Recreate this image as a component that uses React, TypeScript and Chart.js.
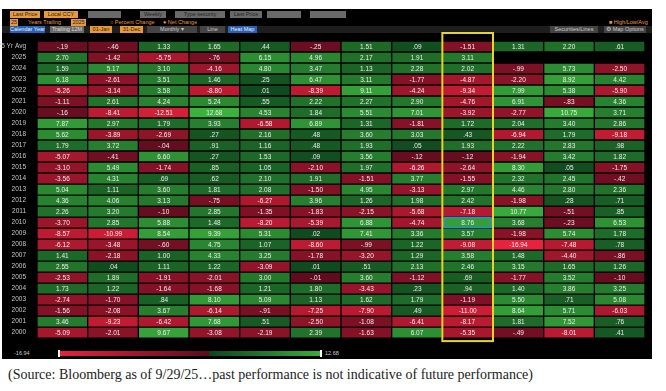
import React, { useEffect, useRef } from "react";
import { Chart, registerables } from "chart.js";
Chart.register(...registerables);

const months = ["Jan", "Feb", "Mar", "Apr", "May", "Jun", "Jul", "Aug", "Sep", "Oct", "Nov", "Dec"];
const rowLabels = ["25 Yr Avg", "2025", "2024", "2023", "2022", "2021", "2020", "2019", "2018", "2017", "2016", "2015", "2014", "2013", "2012", "2011", "2010", "2009", "2008", "2007", "2006", "2005", "2004", "2003", "2002", "2001", "2000"];

const avg25 = [-0.19, -0.46, 1.33, 1.65, 0.44, -0.25, 1.51, 0.09, -1.51, 1.31, 2.20, 0.61];
const y2025 = [2.70, -1.42, -5.75, -0.76, 6.15, 4.96, 2.17, 1.91, 3.11, null, null, null];
const y2024 = [1.59, 5.17, 3.10, -4.16, 4.80, 3.47, 1.13, 2.28, 2.02, -0.99, 5.73, -2.50];
const y2023 = [6.18, -2.61, 3.51, 1.46, 0.25, 6.47, 3.11, -1.77, -4.87, -2.20, 8.92, 4.42];
const y2022 = [-5.26, -3.14, 3.58, -8.80, 0.01, -8.39, 9.11, -4.24, -9.34, 7.99, 5.38, -5.90];
const y2021 = [-1.11, 2.61, 4.24, 5.24, 0.55, 2.22, 2.27, 2.90, -4.76, 6.91, -0.83, 4.36];
const y2020 = [-0.16, -8.41, -12.51, 12.68, 4.53, 1.84, 5.51, 7.01, -3.92, -2.77, 10.75, 3.71];
const y2019 = [7.87, 2.97, 1.79, 3.93, -6.58, 6.89, 1.31, -1.81, 1.72, 2.04, 3.40, 2.86];
const y2018 = [5.62, -3.89, -2.69, 0.27, 2.16, 0.48, 3.60, 3.03, 0.43, -6.94, 1.79, -9.18];
const y2017 = [1.79, 3.72, -0.04, 0.91, 1.16, 0.48, 1.93, 0.05, 1.93, 2.22, 2.83, 0.98];
const y2016 = [-5.07, -0.41, 6.60, 0.27, 1.53, 0.09, 3.56, -0.12, -0.12, -1.94, 3.42, 1.82];
const y2015 = [-3.10, 5.49, -1.74, 0.85, 1.05, -2.10, 1.97, -6.26, -2.64, 8.30, 0.05, -1.75];
const y2014 = [-3.56, 4.31, 0.69, 0.62, 2.10, 1.91, -1.51, 3.77, -1.55, 2.32, 2.45, -0.42];
const y2013 = [5.04, 1.11, 3.60, 1.81, 2.08, -1.50, 4.95, -3.13, 2.97, 4.46, 2.80, 2.36];
const y2012 = [4.36, 4.06, 3.13, -0.75, -6.27, 3.96, 1.26, 1.98, 2.42, -1.98, 0.28, 0.71];
const y2011 = [2.26, 3.20, -0.10, 2.85, -1.35, -1.83, -2.15, -5.68, -7.18, 10.77, -0.51, 0.85];
const y2010 = [-3.70, 2.85, 5.88, 1.48, -8.20, -5.39, 6.88, -4.74, 8.76, 3.68, -0.23, 6.53];
const y2009 = [-8.57, -10.99, 8.54, 9.39, 5.31, 0.02, 7.41, 3.36, 3.57, -1.98, 5.74, 1.78];
const y2008 = [-6.12, -3.48, -0.60, 4.75, 1.07, -8.60, -0.99, 1.22, -9.08, -16.94, -7.48, 0.78];
const y2007 = [1.41, -2.18, 1.00, 4.33, 3.25, -1.78, -3.20, 1.29, 3.58, 1.48, -4.40, -0.86];
const y2006 = [2.55, 0.04, 1.11, 1.22, -3.09, 0.01, 0.51, 2.13, 2.46, 3.15, 1.65, 1.26];
const y2005 = [-2.53, 1.89, -1.91, -2.01, 3.00, -0.01, 3.60, -1.12, 0.69, -1.77, 3.52, -0.10];
const y2004 = [1.73, 1.22, -1.64, -1.68, 1.21, 1.80, -3.43, 0.23, 0.94, 1.40, 3.86, 3.25];
const y2003 = [-2.74, -1.70, 0.84, 8.10, 5.09, 1.13, 1.62, 1.79, -1.19, 5.50, 0.71, 5.08];
const y2002 = [-1.56, -2.08, 3.67, -6.14, -0.91, -7.25, -7.90, 0.49, -11.00, 8.64, 5.71, -6.03];
const y2001 = [3.46, -9.23, -6.42, 7.68, 0.51, -2.50, -1.08, -6.41, -8.17, 1.81, 7.52, 0.76];
const y2000 = [-5.09, -2.01, 9.67, -3.08, -2.19, 2.39, -1.63, 6.07, -5.35, -0.49, -8.01, 0.41];

const rows: (number | null)[][] = [avg25, y2025, y2024, y2023, y2022, y2021, y2020, y2019, y2018, y2017, y2016, y2015, y2014, y2013, y2012, y2011, y2010, y2009, y2008, y2007, y2006, y2005, y2004, y2003, y2002, y2001, y2000];

const scaleMin = -16.94;
const scaleMax = 12.68;
const highlightMonth = 8;
const selectedRow = 16;

function fmt(v: number) {
  const s = v.toFixed(2);
  return s.replace(/^(-?)0\./, "$1.");
}

function lerp(a: number[], b: number[], t: number) {
  return `rgb(${a.map((x, i) => Math.round(x + (b[i] - x) * t)).join(",")})`;
}

function cellColor(v: number | null) {
  if (v == null) return "rgba(0,0,0,0)";
  if (v >= 0) {
    const t = Math.pow(Math.min(v / scaleMax, 1), 0.55);
    return lerp([15, 72, 30], [60, 178, 62], t);
  }
  const t = Math.pow(Math.min(v / scaleMin, 1), 0.55);
  return lerp([94, 12, 30], [232, 34, 60], t);
}

const cellText = {
  id: "cellText",
  afterDatasetsDraw(chart: any) {
    const ctx = chart.ctx;
    ctx.save();
    ctx.font = '6.5px "Liberation Sans", Arial, sans-serif';
    ctx.fillStyle = "#ececec";
    ctx.textAlign = "center";
    ctx.textBaseline = "middle";
    chart.data.datasets.forEach((_: any, i: number) => {
      const meta = chart.getDatasetMeta(i);
      meta.data.forEach((el: any, j: number) => {
        const v = rows[i][j];
        if (v == null) return;
        ctx.fillText(fmt(v), el.x, (el.y + el.base) / 2 + 0.5);
      });
    });
    ctx.restore();
  },
};

const highlight = {
  id: "highlight",
  afterDraw(chart: any) {
    const { ctx, chartArea } = chart;
    const xs = chart.scales.x;
    const ys = chart.scales.y;
    const w = xs.getPixelForValue(1) - xs.getPixelForValue(0);
    const cx = xs.getPixelForValue(highlightMonth);
    ctx.save();
    const y0 = ys.getPixelForValue(selectedRow - 0.5);
    const y1 = ys.getPixelForValue(selectedRow + 0.5);
    ctx.strokeStyle = "#2a8fd0";
    ctx.lineWidth = 1.5;
    ctx.strokeRect(cx - w / 2 + 2, Math.min(y0, y1) + 0.5, w - 4, Math.abs(y1 - y0) - 1);
    ctx.strokeStyle = "#e8d22c";
    ctx.lineWidth = 2;
    ctx.strokeRect(cx - w / 2, chartArea.top - 8, w, chartArea.bottom - chartArea.top + 11);
    ctx.restore();
  },
};

function HeatMap() {
  const ref = useRef<HTMLCanvasElement>(null);
  useEffect(() => {
    if (!ref.current) return;
    const datasets = rows.map((r, i) => ({
      label: rowLabels[i],
      data: r.map((v) => (v == null ? null : [i - 0.5, i + 0.5])),
      backgroundColor: r.map((v) => cellColor(v)),
      borderColor: "rgba(0,0,0,0.55)",
      borderWidth: 1,
      borderSkipped: false,
      grouped: false,
      barPercentage: 1,
      categoryPercentage: 1,
    }));
    const chart = new Chart(ref.current, {
      type: "bar",
      data: { labels: months, datasets: datasets as any },
      options: {
        responsive: false,
        animation: false,
        events: [],
        layout: { padding: { left: 0, right: 5, top: 0, bottom: 3 } },
        plugins: { legend: { display: false }, tooltip: { enabled: false } },
        scales: {
          x: {
            type: "category",
            position: "top",
            grid: { display: false },
            border: { display: false },
            ticks: { color: "#c8c8c8", font: { size: 6.5, family: '"Liberation Sans", Arial, sans-serif' }, padding: 1, maxRotation: 0 },
            afterFit: (s: any) => { s.height = 9; },
          },
          y: {
            type: "linear",
            reverse: true,
            min: -0.5,
            max: rows.length - 0.5,
            grid: { display: false },
            border: { display: false },
            afterBuildTicks: (s: any) => { s.ticks = rowLabels.map((_, i) => ({ value: i })); },
            ticks: {
              autoSkip: false,
              color: "#c8c8c8",
              padding: 3,
              font: { size: 6.5, family: '"Liberation Sans", Arial, sans-serif' },
              callback: (v: any) => rowLabels[v] ?? "",
            },
            afterFit: (s: any) => { s.width = 37; },
          },
        },
      },
      plugins: [cellText, highlight],
    });
    return () => chart.destroy();
  }, []);
  return <canvas ref={ref} width={650} height={313} style={{ position: "absolute", left: 0, top: 32, width: 650, height: 313 }} />;
}

type BoxProps = { x: number; y: number; w?: number; h?: number; bg?: string; color?: string; text?: string };
function Box({ x, y, w, h = 7, bg, color = "#222", text = "" }: BoxProps) {
  return (
    <div style={{ position: "absolute", left: x, top: y, width: w, height: h, background: bg, color, fontSize: 5.5, lineHeight: h + "px", fontFamily: '"Liberation Sans", Arial, sans-serif', whiteSpace: "nowrap", overflow: "hidden", textAlign: w ? "center" : "left" }}>{text}</div>
  );
}

const orange = "#e89a3a";
const gray = "#6a6a6a";
const blue = "#2a62b8";

export default function App() {
  return (
    <div style={{ position: "fixed", left: 0, top: 0, width: 666, height: 391, background: "#fff", overflow: "hidden" }}>
      <div style={{ position: "absolute", left: 2, top: 9, width: 650, height: 350, background: "#000" }} />
      <Box x={10} y={11} w={30} bg={orange} text="Last Price" />
      <Box x={44} y={11} w={34} bg={orange} text="Local CCY" />
      <Box x={88} y={11} w={33} bg={gray} />
      <Box x={140} y={11} w={26} bg={gray} text="Weekly" />
      <Box x={175} y={11} w={50} bg={gray} text="Type security" />
      <Box x={230} y={11} w={32} bg={gray} text="Last Price" />
      <Box x={267} y={11} w={34} bg={gray} />
      <Box x={310} y={11} w={36} bg={gray} />
      <Box x={10} y={18.5} w={8} bg={orange} text="25" />
      <Box x={28} y={18.5} color={orange} text="Years Trailing" />
      <Box x={71} y={18.5} w={15} bg={orange} text="2025" />
      <Box x={110} y={18.5} color={orange} text="○ Percent Change" />
      <Box x={163} y={18.5} color={orange} text="● Net Change" />
      <Box x={609} y={18.5} color={orange} text="■ High/Low/Avg" />
      <div style={{ position: "absolute", left: 2, top: 26, width: 650, height: 7, background: "#1e1e1e" }} />
      <Box x={10} y={26} w={35} bg={blue} color="#eee" text="Calendar Year" />
      <Box x={50} y={26} w={34} bg={gray} color="#ddd" text="Trailing 12M" />
      <Box x={90} y={26} w={22} bg={orange} text="01-Jan" />
      <Box x={120} y={26} w={23} bg={orange} text="31-Dec" />
      <Box x={147} y={26} w={50} bg={"#444"} color="#ccc" text="Monthly ▾" />
      <Box x={200} y={26} w={25} bg={"#444"} color="#ccc" text="Line" />
      <Box x={228} y={26} w={29} bg={blue} color="#eee" text="Heat Map" />
      <Box x={550} y={26} w={48} bg={"#444"} color="#ccc" text="Securities/Lines" />
      <Box x={604} y={26} w={42} bg={"#444"} color="#ccc" text="⚙ Map Options" />
      <HeatMap />
      <Box x={14} y={350} color="#ccc" text="-16.94" />
      <div style={{ position: "absolute", left: 60, top: 351, width: 260, height: 5, background: "linear-gradient(to right, #e6223c 0%, #5c0c1e 57.2%, #0e441c 57.2%, #3aac3c 100%)" }} />
      <div style={{ position: "absolute", left: 58, top: 350, width: 2, height: 7, background: "#fff" }} />
      <div style={{ position: "absolute", left: 320, top: 350, width: 2, height: 7, background: "#fff" }} />
      <Box x={325} y={350} color="#ccc" text="12.68" />
      <div style={{ position: "absolute", left: 8, top: 367, fontFamily: '"Liberation Serif", "Times New Roman", serif', fontSize: 14, color: "#222", whiteSpace: "nowrap" }}>
        (Source: Bloomberg as of 9/29/25…past performance is not indicative of future performance)
      </div>
    </div>
  );
}
